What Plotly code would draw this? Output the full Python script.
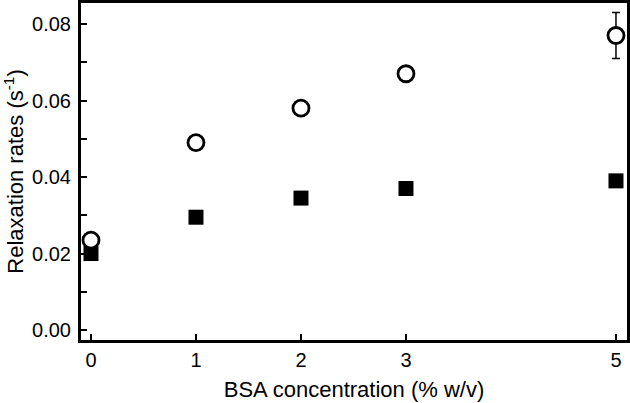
import plotly.graph_objects as go

bsa = [0, 1, 2, 3, 5]
rate_open = [0.0235, 0.049, 0.058, 0.067, 0.077]
rate_open_err = [None, None, None, None, 0.006]
rate_filled = [0.020, 0.0295, 0.0345, 0.037, 0.039]
x_ticks = [0, 1, 2, 3, 5]
y_ticks = [0.00, 0.02, 0.04, 0.06, 0.08]

fig = go.Figure()
fig.add_trace(go.Scatter(
    x=bsa, y=rate_filled, mode="markers",
    marker=dict(symbol="square", size=15, color="black", line=dict(width=0)),
    showlegend=False, cliponaxis=False))
fig.add_trace(go.Scatter(
    x=bsa, y=rate_open, mode="markers",
    error_y=dict(type="data", array=rate_open_err, visible=True,
                 color="black", thickness=1.5, width=4),
    marker=dict(symbol="circle", size=16, color="white",
                line=dict(width=2.8, color="black")),
    showlegend=False, cliponaxis=False))

font = "Liberation Sans, Arial, sans-serif"
fig.update_layout(
    width=630, height=403,
    margin=dict(l=81, r=3, t=3, b=63, autoexpand=False),
    paper_bgcolor="white", plot_bgcolor="white",
    font=dict(family=font, color="black", size=20),
    xaxis=dict(range=[-0.095, 5.105], tickvals=x_ticks, ticktext=[str(v) for v in x_ticks],
               ticks="inside", ticklen=6, tickwidth=2, tickcolor="black",
               showline=True, linewidth=3, linecolor="black", mirror=True,
               showgrid=False, zeroline=False, automargin=False,
               tickfont=dict(size=20),
               title=dict(text="BSA concentration (% w/v)", font=dict(size=22), standoff=12)),
    yaxis=dict(range=[-0.0026, 0.0855], tickvals=y_ticks,
               ticktext=[f"{v:.2f}" for v in y_ticks],
               ticks="inside", ticklen=6, tickwidth=2, tickcolor="black",
               ticklabelstandoff=3,
               minor=dict(dtick=0.01, tick0=0, ticks="inside", ticklen=6, tickwidth=2, tickcolor="black", showgrid=False),
               showline=True, linewidth=3, linecolor="black", mirror=True,
               showgrid=False, zeroline=False, automargin=False,
               tickfont=dict(size=20),
               title=dict(text="Relaxation rates (s<sup>-1</sup>)", font=dict(size=22), standoff=10)),
)
fig.write_html("out.html", config={"displayModeBar": False},
               post_script="document.body.style.margin='0';document.body.style.padding='0';")
